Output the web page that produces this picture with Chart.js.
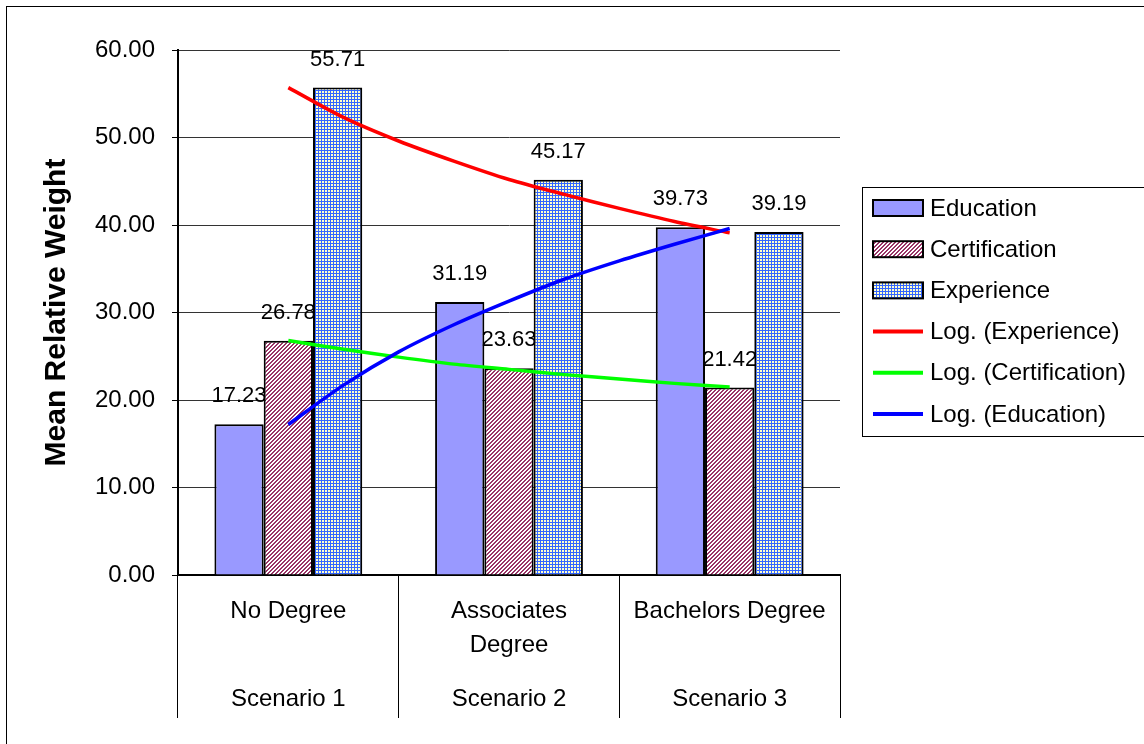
<!DOCTYPE html>
<html>
<head>
<meta charset="utf-8">
<script src="https://cdn.jsdelivr.net/npm/chart.js@4/dist/chart.umd.min.js"></script>
<style>
  html, body { margin: 0; padding: 0; background: #fff; }
  canvas { display: block; }
</style>
</head>
<body>
<canvas id="chart" width="1144" height="744"></canvas>
<script>
// Categories (two label levels) and series values
const categories = [['No Degree'], ['Associates', 'Degree'], ['Bachelors Degree']];
const scenarios = ['Scenario 1', 'Scenario 2', 'Scenario 3'];
const categoryPos = [1, 2, 3];
const education = [17.23, 31.19, 39.73];
const certification = [26.78, 23.63, 21.42];
const experience = [55.71, 45.17, 39.19];

// Logarithmic trend lines, sampled along the category positions
const trendX = [1, 1.25, 1.5, 1.75, 2, 2.25, 2.5, 2.75, 3];
const experienceTrend = [55.7, 52.3, 49.6, 47.3, 45.2, 43.5, 41.9, 40.4, 39.1];
const certificationTrend = [26.8, 25.8, 24.9, 24.1, 23.5, 22.9, 22.4, 21.9, 21.5];
const educationTrend = [17.2, 21.7, 25.5, 28.6, 31.3, 33.8, 35.9, 37.8, 39.6];

const yTicks = [0, 10, 20, 30, 40, 50, 60];

const FONT = "'Liberation Sans', Arial, Helvetica, sans-serif";

// Fill patterns for the bars
function makePattern(size, paint) {
  const c = document.createElement('canvas');
  c.width = c.height = size;
  const g = c.getContext('2d');
  paint(g, size);
  return g.createPattern(c, 'repeat');
}
const hatchFill = makePattern(4, (g, n) => {
  g.fillStyle = '#ffffff';
  g.fillRect(0, 0, n, n);
  g.fillStyle = '#993366';
  for (let x = 0; x < n; x++)
    for (let y = 0; y < n; y++)
      if ((x + y) % n < 2) g.fillRect(x, y, 1, 1);
});
const gridFill = makePattern(3, (g, n) => {
  g.fillStyle = '#ffffcc';
  g.fillRect(0, 0, n, n);
  g.fillStyle = '#3366ff';
  g.fillRect(0, 0, n, 1);
  g.fillRect(0, 0, 1, n);
});

const barPoints = ys => ys.map((y, i) => ({ x: categoryPos[i], y }));
const trendPoints = ys => ys.map((y, i) => ({ x: trendX[i], y }));

// Outer frame and white background
const framePlugin = {
  id: 'frame',
  beforeDraw(chart) {
    const ctx = chart.ctx;
    ctx.save();
    ctx.fillStyle = '#fff';
    ctx.fillRect(0, 0, chart.width, chart.height);
    ctx.strokeStyle = '#000';
    ctx.lineWidth = 1;
    ctx.strokeRect(6.5, 6.5, chart.width + 20, chart.height + 20);
    ctx.restore();
  }
};

// Value labels above each bar
const valueLabelPlugin = {
  id: 'valueLabels',
  beforeDatasetsDraw(chart) {
    const ctx = chart.ctx;
    ctx.save();
    ctx.font = '22px ' + FONT;
    ctx.fillStyle = '#000';
    ctx.textAlign = 'center';
    ctx.textBaseline = 'middle';
    chart.data.datasets.forEach((ds, i) => {
      if (ds.type !== 'bar') return;
      chart.getDatasetMeta(i).data.forEach((bar, j) => {
        ctx.fillText(ds.data[j].y.toFixed(2), bar.x, bar.y - 28);
      });
    });
    ctx.restore();
  }
};

// Boxed legend at the right
const legendPlugin = {
  id: 'boxLegend',
  afterDraw(chart) {
    const ctx = chart.ctx;
    ctx.save();
    ctx.strokeStyle = '#000';
    ctx.lineWidth = 1;
    ctx.strokeRect(862.5, 187.5, 400, 249);
    ctx.font = '24px ' + FONT;
    ctx.textBaseline = 'middle';
    ctx.textAlign = 'left';
    chart.data.datasets.forEach((ds, i) => {
      const cy = 208 + i * 41.2;
      if (ds.type === 'bar') {
        ctx.fillStyle = ds.backgroundColor;
        ctx.fillRect(873, cy - 8, 50, 16);
        ctx.lineWidth = 2;
        ctx.strokeStyle = '#000';
        ctx.strokeRect(873, cy - 8, 50, 16);
      } else {
        ctx.beginPath();
        ctx.moveTo(873, cy);
        ctx.lineTo(923, cy);
        ctx.lineWidth = 4;
        ctx.strokeStyle = ds.borderColor;
        ctx.stroke();
      }
      ctx.fillStyle = '#000';
      ctx.fillText(ds.label, 930, cy + 1);
    });
    ctx.restore();
  }
};

const barCommon = {
  type: 'bar',
  xAxisID: 'xv',
  borderColor: '#000',
  borderWidth: 2,
  categoryPercentage: 0.67,
  barPercentage: 1.0,
  order: 1
};
const lineCommon = {
  type: 'line',
  xAxisID: 'xv',
  pointRadius: 0,
  borderWidth: 3.5,
  tension: 0.3,
  fill: false
};

new Chart(document.getElementById('chart'), {
  type: 'bar',
  data: {
    labels: categories,
    datasets: [
      { ...barCommon, label: 'Education', data: barPoints(education), backgroundColor: '#9999ff' },
      { ...barCommon, label: 'Certification', data: barPoints(certification), backgroundColor: hatchFill },
      { ...barCommon, label: 'Experience', data: barPoints(experience), backgroundColor: gridFill },
      { ...lineCommon, label: 'Log. (Experience)', data: trendPoints(experienceTrend), borderColor: '#ff0000', order: 0 },
      { ...lineCommon, label: 'Log. (Certification)', data: trendPoints(certificationTrend), borderColor: '#00ff00', order: 0 },
      { ...lineCommon, label: 'Log. (Education)', data: trendPoints(educationTrend), borderColor: '#0000ff', order: -1 }
    ]
  },
  options: {
    responsive: false,
    animation: false,
    devicePixelRatio: 1,
    events: [],
    layout: { padding: { left: 6, top: 50, right: 304, bottom: 26 } },
    plugins: {
      legend: { display: false },
      tooltip: { enabled: false }
    },
    scales: {
      // value axis for bars and trend lines (positions 1..3 are the category centres)
      xv: {
        type: 'linear',
        position: 'bottom',
        weight: 2,
        display: false,
        offset: false,
        min: 0.5,
        max: 3.5,
        afterBuildTicks(s) { s.ticks = categoryPos.map(v => ({ value: v })); }
      },
      // first label level: degree
      x: {
        type: 'category',
        position: 'bottom',
        weight: 0,
        offset: true,
        grid: { offset: true, drawOnChartArea: false, drawTicks: true, tickLength: 91, tickColor: '#000', lineWidth: 1 },
        border: { display: true, color: '#000', width: 2 },
        ticks: {
          autoSkip: false, maxRotation: 0, minRotation: 0,
          padding: -72, color: '#000',
          font: { family: FONT, size: 24, lineHeight: 34 / 24 }
        },
        afterFit(s) { s.height = 91; }
      },
      // second label level: scenario
      x2: {
        type: 'category',
        position: 'bottom',
        weight: 1,
        labels: scenarios,
        offset: true,
        grid: { offset: true, drawOnChartArea: false, drawTicks: true, tickLength: 52, tickColor: '#000', lineWidth: 1 },
        border: { display: false },
        ticks: {
          autoSkip: false, maxRotation: 0, minRotation: 0,
          padding: -36, color: '#000',
          font: { family: FONT, size: 24, lineHeight: 34 / 24 }
        },
        afterFit(s) { s.height = 52; }
      },
      y: {
        type: 'linear',
        min: 0,
        max: 60,
        afterBuildTicks(s) { s.ticks = yTicks.map(v => ({ value: v })); },
        grid: { color: '#333', lineWidth: 1, tickColor: '#000', tickLength: 6 },
        border: { display: true, color: '#000', width: 2 },
        ticks: {
          padding: 17, color: '#000',
          font: { family: FONT, size: 24 },
          callback: v => Number(v).toFixed(2)
        },
        title: {
          display: true,
          text: 'Mean Relative Weight',
          color: '#000',
          font: { family: FONT, size: 30, weight: 'bold' },
          padding: { top: 33, bottom: 0 }
        },
        afterFit(s) { s.width = 172; }
      }
    }
  },
  plugins: [framePlugin, valueLabelPlugin, legendPlugin]
});
</script>
</body>
</html>
